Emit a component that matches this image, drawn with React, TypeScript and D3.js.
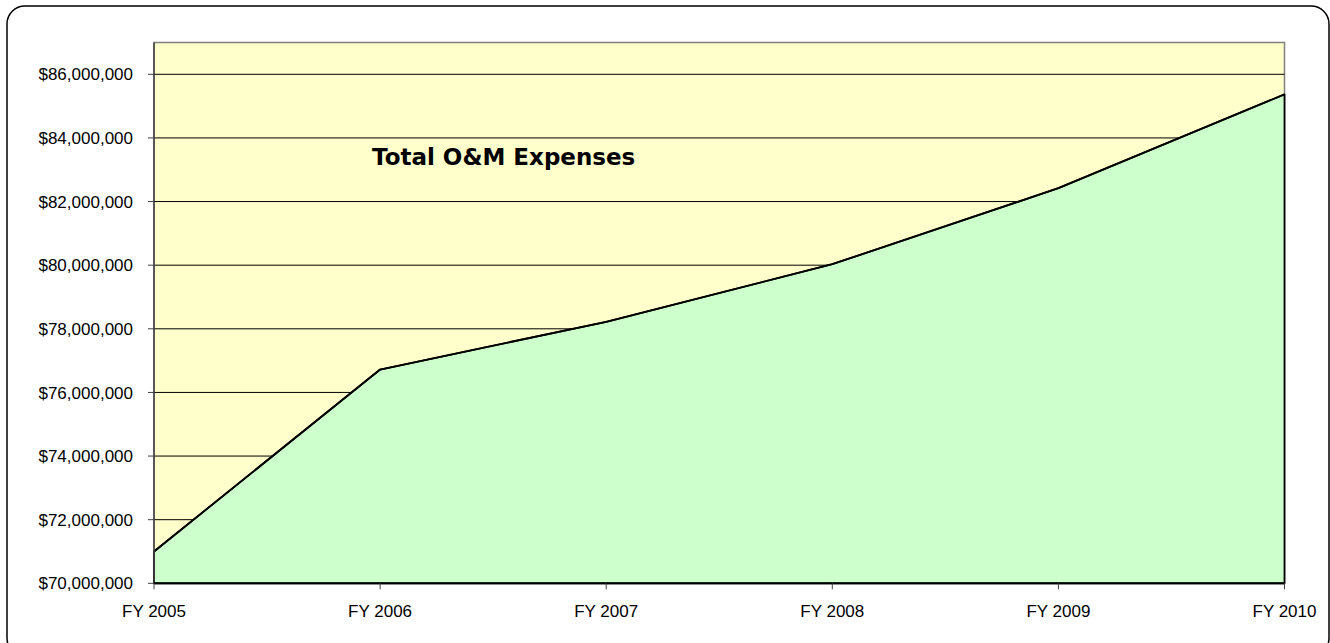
import React from "react";
import * as d3 from "d3";

const categories = ["FY 2005", "FY 2006", "FY 2007", "FY 2008", "FY 2009", "FY 2010"];
const expenses = [71000000, 76720000, 78220000, 80030000, 82420000, 85370000];
const yTicks = [70000000, 72000000, 74000000, 76000000, 78000000, 80000000, 82000000, 84000000, 86000000];
const yMin = 70000000;
const yMax = 87000000;
const chartTitle = "Total O&M Expenses";

const W = 1330;
const H = 643;
const plot = { left: 154, right: 1284.5, top: 42.5, bottom: 583.3 };

export default function App() {
  const x = d3.scalePoint<string>().domain(categories).range([plot.left, plot.right]);
  const y = d3.scaleLinear().domain([yMin, yMax]).range([plot.bottom, plot.top]);
  const fmt = (v: number) => "$" + d3.format(",")(v);

  const data = categories.map((c, i) => ({ c, v: expenses[i] }));
  const area = d3
    .area<{ c: string; v: number }>()
    .x((d) => x(d.c) as number)
    .y0(y(yMin))
    .y1((d) => y(d.v));
  const line = d3
    .line<{ c: string; v: number }>()
    .x((d) => x(d.c) as number)
    .y((d) => y(d.v));

  const axisFont = "'Liberation Sans', Arial, sans-serif";

  return (
    <svg
      width={W}
      height={H}
      style={{ position: "absolute", left: 0, top: 0, display: "block", background: "#fff" }}
    >
      <rect x={7} y={6} width={1322} height={650} rx={18} ry={18} fill="#fff" stroke="#000" strokeWidth={1.5} />
      <rect
        x={plot.left}
        y={plot.top}
        width={plot.right - plot.left}
        height={plot.bottom - plot.top}
        fill="#FFFFCC"
        stroke="#808080"
        strokeWidth={1.5}
      />
      {yTicks.slice(1).map((t) => (
        <line key={t} x1={plot.left} x2={plot.right} y1={y(t)} y2={y(t)} stroke="#000" strokeWidth={1} />
      ))}
      <path d={area(data) || ""} fill="#CCFFCC" stroke="#000" strokeWidth={1.8} strokeLinejoin="round" />
      <path d={line(data) || ""} fill="none" stroke="#000" strokeWidth={1.8} strokeLinejoin="round" />
      <line x1={plot.left} x2={plot.left} y1={plot.top} y2={plot.bottom} stroke="#404040" strokeWidth={1.5} />
      {yTicks.map((t) => (
        <g key={t}>
          <line x1={plot.left - 6} x2={plot.left} y1={y(t)} y2={y(t)} stroke="#404040" strokeWidth={1} />
          <text
            x={133}
            y={y(t)}
            dy="0.36em"
            textAnchor="end"
            fontFamily={axisFont}
            fontSize={17}
            fill="#000"
          >
            {fmt(t)}
          </text>
        </g>
      ))}
      <line x1={plot.left} x2={plot.right} y1={plot.bottom} y2={plot.bottom} stroke="#000" strokeWidth={2} />
      {categories.map((c) => (
        <g key={c}>
          <line
            x1={x(c) as number}
            x2={x(c) as number}
            y1={plot.bottom}
            y2={plot.bottom + 6}
            stroke="#404040"
            strokeWidth={1}
          />
          <text
            x={x(c) as number}
            y={617}
            textAnchor="middle"
            fontFamily={axisFont}
            fontSize={17}
            fill="#000"
          >
            {c}
          </text>
        </g>
      ))}
      <text
        x={372}
        y={165}
        fontFamily="'DejaVu Sans', Verdana, sans-serif"
        fontWeight="bold"
        fontSize={23}
        fill="#000"
      >
        {chartTitle}
      </text>
    </svg>
  );
}
